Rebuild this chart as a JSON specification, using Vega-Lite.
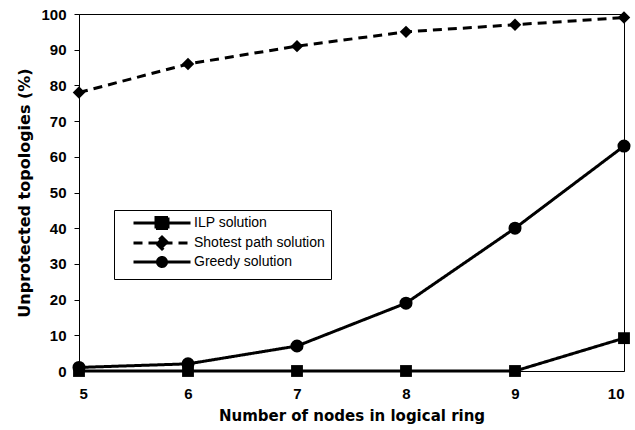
{
  "$schema": "https://vega.github.io/schema/vega-lite/v6.json",
  "width": 545,
  "height": 357,
  "autosize": {"type": "none"},
  "padding": {"left": 79, "top": 14, "right": 11, "bottom": 59},
  "background": "white",
  "config": {
    "view": {"stroke": "black", "strokeWidth": 1},
    "axis": {
      "grid": false,
      "domainColor": "black",
      "tickColor": "black",
      "labelColor": "black",
      "labelFont": "Liberation Sans",
      "labelFontWeight": "bold",
      "labelFontSize": 15,
      "titleColor": "black",
      "titleFont": "DejaVu Sans",
      "titleFontWeight": "bold"
    }
  },
  "data": {
    "values": [
      {"n": 5, "series": "ILP solution", "v": 0},
      {"n": 6, "series": "ILP solution", "v": 0},
      {"n": 7, "series": "ILP solution", "v": 0},
      {"n": 8, "series": "ILP solution", "v": 0},
      {"n": 9, "series": "ILP solution", "v": 0},
      {"n": 10, "series": "ILP solution", "v": 9.2},
      {"n": 5, "series": "Shotest path solution", "v": 78},
      {"n": 6, "series": "Shotest path solution", "v": 86},
      {"n": 7, "series": "Shotest path solution", "v": 91},
      {"n": 8, "series": "Shotest path solution", "v": 95},
      {"n": 9, "series": "Shotest path solution", "v": 97},
      {"n": 10, "series": "Shotest path solution", "v": 99},
      {"n": 5, "series": "Greedy solution", "v": 1},
      {"n": 6, "series": "Greedy solution", "v": 2},
      {"n": 7, "series": "Greedy solution", "v": 7},
      {"n": 8, "series": "Greedy solution", "v": 19},
      {"n": 9, "series": "Greedy solution", "v": 40},
      {"n": 10, "series": "Greedy solution", "v": 63}
    ]
  },
  "encoding": {
    "x": {
      "field": "n",
      "type": "quantitative",
      "scale": {"domain": [5, 10], "nice": false, "zero": false},
      "axis": {
        "title": "Number of nodes in logical ring",
        "values": [5, 6, 7, 8, 9, 10],
        "tickSize": 0,
        "labelPadding": 15,
        "titleFontSize": 15,
        "titlePadding": 7
      }
    },
    "y": {
      "field": "v",
      "type": "quantitative",
      "scale": {"domain": [0, 100], "nice": false},
      "axis": {
        "title": "Unprotected topologies (%)",
        "values": [0, 10, 20, 30, 40, 50, 60, 70, 80, 90, 100],
        "tickSize": 5,
        "labelPadding": 8,
        "titleFontSize": 16,
        "titlePadding": 8
      }
    }
  },
  "resolve": {"legend": {"shape": "independent", "size": "independent", "strokeDash": "independent"}},
  "layer": [
    {
      "mark": {"type": "line", "color": "black", "strokeWidth": 3},
      "encoding": {
        "strokeDash": {
          "field": "series",
          "type": "nominal",
          "scale": {
            "domain": ["ILP solution", "Shotest path solution", "Greedy solution"],
            "range": [[1, 0], [9, 6], [1, 0]]
          },
          "legend": {
            "title": null,
            "orient": "none",
            "legendX": 35,
            "legendY": 196,
            "padding": 6,
            "strokeColor": "black",
            "fillColor": "white",
            "symbolOffset": 35,
            "labelOffset": 25,
            "labelFont": "Liberation Sans",
            "labelFontSize": 14,
            "labelColor": "black",
            "rowPadding": -4,
            "symbolStrokeWidth": 3,
            "symbolStrokeColor": "black",
            "symbolFillColor": "black",
            "symbolSize": 100,
            "encode": {
              "symbols": {
                "update": {
                  "shape": {"signal": "datum.value === 'ILP solution' ? 'M-5.7,0H5.7M-1.2,-1.1H1.2V1.1H-1.2Z' : datum.value === 'Shotest path solution' ? 'M-5.7,0H5.7M0,-1.2L1.2,0L0,1.2L-1.2,0Z' : 'M-5.7,0H5.7M0.9,0C0.9,0.497 0.497,0.9 0,0.9C-0.497,0.9 -0.9,0.497 -0.9,0C-0.9,-0.497 -0.497,-0.9 0,-0.9C0.497,-0.9 0.9,-0.497 0.9,0Z'"},
                  "fill": {"value": "black"},
                  "stroke": {"value": "black"},
                  "strokeWidth": {"value": 3},
                  "size": {"value": 100}
                }
              }
            }
          }
        }
      }
    },
    {
      "mark": {"type": "point", "filled": true, "color": "black", "opacity": 1},
      "encoding": {
        "shape": {
          "field": "series",
          "type": "nominal",
          "scale": {
            "domain": ["ILP solution", "Shotest path solution", "Greedy solution"],
            "range": ["square", "diamond", "circle"]
          },
          "legend": null
        },
        "size": {
          "field": "series",
          "type": "nominal",
          "scale": {
            "domain": ["ILP solution", "Shotest path solution", "Greedy solution"],
            "range": [140, 170, 80]
          },
          "legend": null
        }
      }
    }
  ]
}
